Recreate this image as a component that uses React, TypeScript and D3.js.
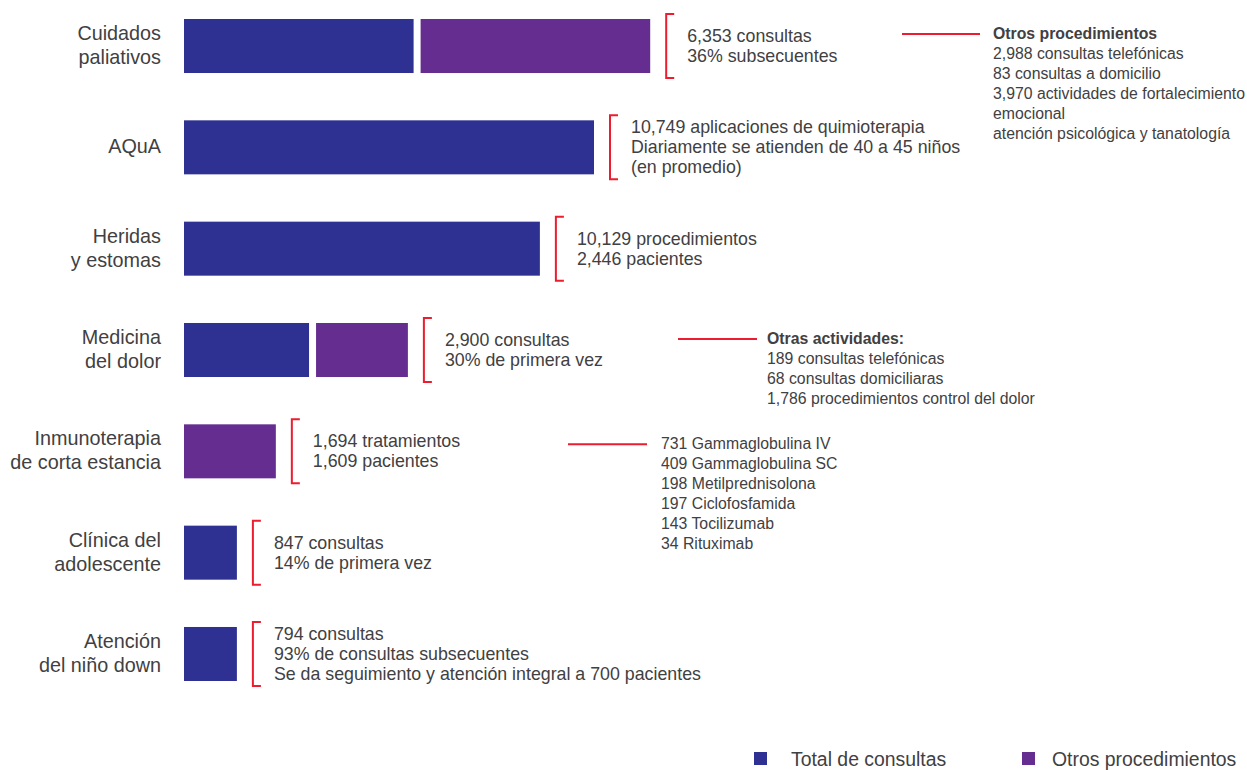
import React from "react";
import * as d3 from "d3";

// ---- data ----
const categories = [
  ["Cuidados", "paliativos"],
  ["AQuA"],
  ["Heridas", "y estomas"],
  ["Medicina", "del dolor"],
  ["Inmunoterapia", "de corta estancia"],
  ["Clínica del", "adolescente"],
  ["Atención", "del niño down"],
];
// bar lengths in relative units (AQuA = 100)
const totalConsultas = [56.0, 100, 86.8, 30.5, 0, 12.9, 12.9];
const otrosProcedimientos = [56.0, 0, 0, 22.4, 22.4, 0, 0];
const annotations = [
  ["6,353 consultas", "36% subsecuentes"],
  ["10,749 aplicaciones de quimioterapia", "Diariamente se atienden de 40 a 45 niños", "(en promedio)"],
  ["10,129 procedimientos", "2,446 pacientes"],
  ["2,900 consultas", "30% de primera vez"],
  ["1,694 tratamientos", "1,609 pacientes"],
  ["847 consultas", "14% de primera vez"],
  ["794 consultas", "93% de consultas subsecuentes", "Se da seguimiento y atención integral a 700 pacientes"],
];
const noteCategory = [0, 3, 4];
const noteTitles = ["Otros procedimientos", "Otras actividades:", ""];
const noteLines = [
  ["2,988 consultas telefónicas", "83 consultas a domicilio", "3,970 actividades de fortalecimiento", "emocional", "atención psicológica y tanatología"],
  ["189 consultas telefónicas", "68 consultas domiciliaras", "1,786 procedimientos control del dolor"],
  ["731 Gammaglobulina IV", "409 Gammaglobulina SC", "198 Metilprednisolona", "197 Ciclofosfamida", "143 Tocilizumab", "34 Rituximab"],
];
const legendLabels = ["Total de consultas", "Otros procedimientos"];

// ---- layout / style (not data) ----
const W = 1247;
const H = 770;
const BLUE = "#2e3192";
const PURPLE = "#662d91";
const RED = "#ed1c2e";
const TEXT = "#414042";
const FONT = "'Liberation Sans', Arial, Helvetica, sans-serif";
const GAP = 7;
const noteLayout = [
  { x1: 902, x2: 980, tx: 993, dy: -13 },
  { x1: 678, x2: 757, tx: 767, dy: -12 },
  { x1: 568, x2: 647, tx: 661, dy: -8 },
];
const legendX = [754, 1022];
const legendTextX = [791, 1052];

export default function App() {
  const idx = categories.map((_, i) => String(i));
  const y = d3.scaleBand<string>().domain(idx).range([19, 681]).paddingInner(0.467).paddingOuter(0);
  const x = d3.scaleLinear().domain([0, 100]).range([0, 410]);
  const x0 = 184;

  const rows = categories.map((c, i) => ({ total: totalConsultas[i], otros: otrosProcedimientos[i] }));
  const stack = d3.stack<any>().keys(["total", "otros"]);
  const series = stack(rows);
  const colors = [BLUE, PURPLE];

  const barEnd = (i: number) => {
    let end = x0;
    series.forEach((s) => {
      const [a, b] = s[i];
      if (b - a > 0) end = x0 + x(b) + (a > 0 ? GAP : 0);
    });
    return end;
  };

  return (
    <svg width={W} height={H} style={{ position: "absolute", left: 0, top: 0 }} fontFamily={FONT}>
      <rect width={W} height={H} fill="#fff" />
      {/* category labels */}
      {categories.map((lines, i) => {
        const cy = y(String(i))! + y.bandwidth() / 2;
        return (
          <text key={"c" + i} x={161} textAnchor="end" fontSize={19.8} fill={TEXT}>
            {lines.map((l, j) => (
              <tspan key={j} x={161} y={cy - 1 + (j - (lines.length - 1) / 2) * 24} dominantBaseline="central">
                {l}
              </tspan>
            ))}
          </text>
        );
      })}
      {/* bars */}
      {series.map((s, si) =>
        s.map((d, i) => {
          const [a, b] = d;
          if (b - a <= 0) return null;
          const start = x0 + x(a) + (a > 0 ? GAP : 0);
          return (
            <rect
              key={si + "-" + i}
              x={start}
              y={y(String(i))}
              width={x(b) - x(a)}
              height={y.bandwidth()}
              fill={colors[si]}
            />
          );
        })
      )}
      {/* brackets + annotations */}
      {annotations.map((lines, i) => {
        const top = y(String(i))! - 5;
        const bot = y(String(i))! + y.bandwidth() + 5;
        const bx = barEnd(i) + 16;
        const cy = y(String(i))! + y.bandwidth() / 2;
        return (
          <g key={"a" + i}>
            <path
              d={`M${bx + 8},${top}H${bx}V${bot}H${bx + 8}`}
              fill="none"
              stroke={RED}
              strokeWidth={2}
            />
            <text fontSize={17.8} fill={TEXT}>
              {lines.map((l, j) => (
                <tspan key={j} x={bx + 21} y={cy + (j - (lines.length - 1) / 2) * 20} dominantBaseline="central">
                  {l}
                </tspan>
              ))}
            </text>
          </g>
        );
      })}
      {/* side notes */}
      {noteCategory.map((ci, n) => {
        const L = noteLayout[n];
        const cy = y(String(ci))! + y.bandwidth() / 2 + L.dy;
        const all = noteTitles[n] ? [noteTitles[n], ...noteLines[n]] : noteLines[n];
        return (
          <g key={"n" + n}>
            <line x1={L.x1} x2={L.x2} y1={cy + 1} y2={cy + 1} stroke={RED} strokeWidth={2} />
            <text fontSize={15.8} fill={TEXT}>
              {all.map((l, j) => (
                <tspan
                  key={j}
                  x={L.tx}
                  y={cy + j * 20}
                  dominantBaseline="central"
                  fontWeight={noteTitles[n] && j === 0 ? "bold" : "normal"}
                >
                  {l}
                </tspan>
              ))}
            </text>
          </g>
        );
      })}
      {/* legend */}
      {legendLabels.map((l, i) => {
        const lx = legendX[i];
        return (
          <g key={"l" + i}>
            <rect x={lx} y={752} width={13} height={13} fill={colors[i]} />
            <text x={legendTextX[i]} y={759} dominantBaseline="central" fontSize={19.4} fill={TEXT}>
              {l}
            </text>
          </g>
        );
      })}
    </svg>
  );
}
